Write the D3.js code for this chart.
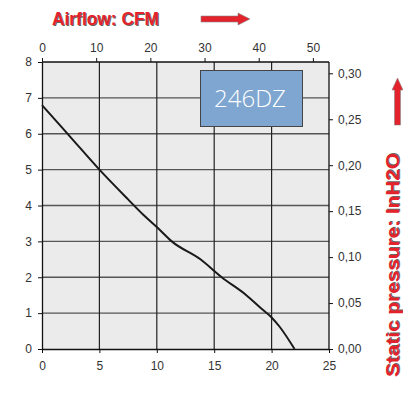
<!DOCTYPE html>
<html><head><meta charset="utf-8">
<script src="https://cdn.jsdelivr.net/npm/d3@7"></script>
<style>
html,body{margin:0;padding:0;background:#fff;}
svg{display:block;}
</style></head>
<body>
<script>
// Data
const flowLs = [0, 2.5, 5, 7.5, 8.8, 10, 11.3, 13.8, 15.65, 17.8, 19.1, 20, 20.7, 22];
const pressureMm = [6.8, 5.9, 5.0, 4.17, 3.75, 3.4, 3.0, 2.5, 2.0, 1.5, 1.13, 0.88, 0.62, 0];
const bottomTicks = [0, 5, 10, 15, 20, 25];
const leftTicks = [0, 1, 2, 3, 4, 5, 6, 7, 8];
const topTicks = [0, 10, 20, 30, 40, 50];
const rightTicks = [0, 0.05, 0.10, 0.15, 0.20, 0.25, 0.30];
const modelName = "246DZ";
const topTitle = "Airflow: CFM";
const rightTitle = "Static pressure: InH2O";

const W = 403, H = 414;
const svg = d3.select("body").append("svg").attr("width", W).attr("height", H);

const x = d3.scaleLinear().domain([0, 25]).range([42, 329]);
const y = d3.scaleLinear().domain([0, 8]).range([349, 62]);
const xTop = d3.scaleLinear().domain([0, 25 * 2.11888]).range([42, 329]);
const yRight = d3.scaleLinear().domain([0, 0.3123]).range([349, 62]);

// background
svg.append("rect").attr("x", x(0)).attr("y", y(8)).attr("width", x(25) - x(0)).attr("height", y(0) - y(8)).attr("fill", "#ebebeb");

// grid
const g = svg.append("g");
g.selectAll("line.h").data(leftTicks.filter(d => d > 0 && d < 8)).enter().append("line")
  .attr("x1", x(0)).attr("x2", x(25)).attr("y1", d => y(d)).attr("y2", d => y(d))
  .attr("stroke", "#555").attr("stroke-width", 1.3);
g.selectAll("line.v").data(bottomTicks.filter(d => d > 0 && d < 25)).enter().append("line")
  .attr("y1", y(0)).attr("y2", y(8)).attr("x1", d => x(d)).attr("x2", d => x(d))
  .attr("stroke", "#222").attr("stroke-width", 1.2);

const fontTicks = "'Liberation Sans', Arial, sans-serif";
function styleAxis(sel) {
  sel.selectAll("path.domain").attr("stroke", "#111").attr("stroke-width", 1.3);
  sel.selectAll(".tick line").attr("stroke", "#111").attr("stroke-width", 1);
  sel.selectAll(".tick text").attr("fill", "#333").attr("font-size", 12).attr("font-family", fontTicks);
}

const bottomAxis = svg.append("g").attr("transform", `translate(0,${y(0)})`)
  .call(d3.axisBottom(x).tickValues(bottomTicks).tickFormat(d3.format("d")).tickSizeInner(4).tickSizeOuter(0).tickPadding(8));
styleAxis(bottomAxis);

const leftAxis = svg.append("g").attr("transform", `translate(${x(0)},0)`)
  .call(d3.axisLeft(y).tickValues(leftTicks).tickFormat(d3.format("d")).tickSizeInner(4).tickSizeOuter(0).tickPadding(6));
styleAxis(leftAxis);

const topAxis = svg.append("g").attr("transform", `translate(0,${y(8)})`)
  .call(d3.axisTop(xTop).tickValues(topTicks).tickFormat(d3.format("d")).tickSizeInner(4).tickSizeOuter(0).tickPadding(6));
styleAxis(topAxis);
topAxis.select("path.domain").attr("d", `M${x(0)},0H${x(25)}`);

const rightAxis = svg.append("g").attr("transform", `translate(${x(25)},0)`)
  .call(d3.axisRight(yRight).tickValues(rightTicks).tickFormat(d => d3.format(".2f")(d).replace(".", ",")).tickSizeInner(4).tickSizeOuter(0).tickPadding(5));
styleAxis(rightAxis);
rightAxis.select("path.domain").attr("d", `M0,${y(0)}V${y(8)}`);

// curve
const pts = flowLs.map((f, i) => [f, pressureMm[i]]);
svg.append("path").datum(pts)
  .attr("d", d3.line().x(d => x(d[0])).y(d => y(d[1])).curve(d3.curveMonotoneX))
  .attr("fill", "none").attr("stroke", "#1a1a1a").attr("stroke-width", 2);

// model box
svg.append("rect").attr("x", 200.5).attr("y", 70.5).attr("width", 102).attr("height", 56)
  .attr("fill", "#7ea6d0").attr("stroke", "#444").attr("stroke-width", 1);
svg.append("text").attr("x", 250).attr("y", 106.5).attr("text-anchor", "middle")
  .attr("font-family", "'Open Sans', Lato, sans-serif").attr("font-weight", 300).attr("font-size", 24)
  .attr("fill", "#fff").text(modelName);

// titles
const titleFont = "'Liberation Sans', Arial, sans-serif";
function redText(xp, yp, txt, rot, anchor, size, len) {
  const gg = svg.append("g").attr("transform", `translate(${xp},${yp}) rotate(${rot})`);
  gg.append("text").attr("x", 1).attr("y", 1).attr("text-anchor", anchor)
    .attr("font-family", titleFont).attr("font-weight", "bold").attr("font-size", size)
    .attr("textLength", len).attr("lengthAdjust", "spacingAndGlyphs")
    .attr("fill", "#666").text(txt);
  gg.append("text").attr("x", 0).attr("y", 0).attr("text-anchor", anchor)
    .attr("font-family", titleFont).attr("font-weight", "bold").attr("font-size", size)
    .attr("textLength", len).attr("lengthAdjust", "spacingAndGlyphs")
    .attr("fill", "#e3222b").text(txt);
}
redText(52, 25, topTitle, 0, "start", 19, 107);
redText(399, 153, rightTitle, -90, "end", 18, 224);

// arrows
function arrowPath(len, shaftH, headH, headL) {
  return `M0,${-shaftH/2}H${len-headL}V${-headH/2}L${len},0L${len-headL},${headH/2}V${shaftH/2}H0Z`;
}
svg.append("path").attr("d", arrowPath(49, 6, 12, 12))
  .attr("transform", "translate(201,19)").attr("fill", "#e3222b").attr("stroke", "#888").attr("stroke-width", 0.6);
svg.append("path").attr("d", arrowPath(47, 6, 11, 12))
  .attr("transform", "translate(397.5,125) rotate(-90)").attr("fill", "#e3222b").attr("stroke", "#888").attr("stroke-width", 0.6);
</script>
</body></html>
